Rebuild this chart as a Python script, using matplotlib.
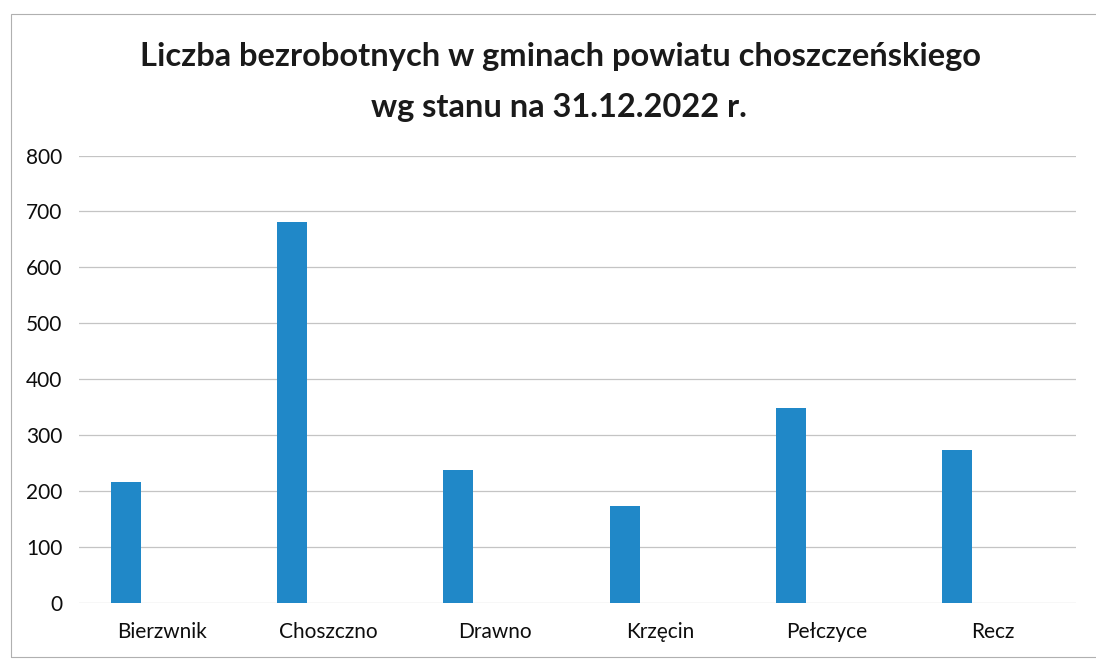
import matplotlib
matplotlib.use("Agg")
import matplotlib.pyplot as plt
from matplotlib.patches import Rectangle

categories = ["Bierzwnik", "Choszczno", "Drawno", "Krzęcin", "Pełczyce", "Recz"]
values = [216, 681, 238, 173, 348, 274]
yticks = [0, 100, 200, 300, 400, 500, 600, 700, 800]
title_lines = ["Liczba bezrobotnych w gminach powiatu choszczeńskiego",
               "wg stanu na 31.12.2022 r."]

plt.rcParams['font.family'] = ['Lato', 'DejaVu Sans']

fig = plt.figure(figsize=(10.96, 6.59), dpi=100)
ax = fig.add_axes([0.0721, 0.0850, 0.9097, 0.679])

x = list(range(len(categories)))
offset = -0.217
ax.bar([i + offset for i in x], values, width=0.18, color="#2088C8", zorder=3)

ax.set_xlim(-0.5, len(categories) - 0.5)
ax.set_ylim(0, 800)
ax.set_yticks(yticks)
ax.set_yticklabels([str(t) for t in yticks], fontsize=15, color="#0d0d0d")
ax.set_xticks(x)
ax.set_xticklabels(categories, fontsize=15, color="#0d0d0d")
ax.tick_params(axis='both', length=0)
ax.tick_params(axis='y', pad=12)
ax.tick_params(axis='x', pad=14)
ax.grid(axis='y', color="#c4c4c4", linewidth=0.9, zorder=0)
for s in ax.spines.values():
    s.set_visible(False)

fig.text(561 / 1096, 1 - 66 / 659, title_lines[0], ha='center', va='baseline',
         fontsize=23.5, fontweight='bold', color="#1a1a1a")
fig.text(559 / 1096, 1 - 117 / 659, title_lines[1], ha='center', va='baseline',
         fontsize=23.5, fontweight='bold', color="#1a1a1a")

fig.patches.append(Rectangle((11 / 1096, 1 - 657 / 659), 1090 / 1096, 643 / 659,
                             transform=fig.transFigure, fill=False,
                             edgecolor="#b0b0b0", linewidth=0.8))

fig.savefig("out.png", dpi=100)
